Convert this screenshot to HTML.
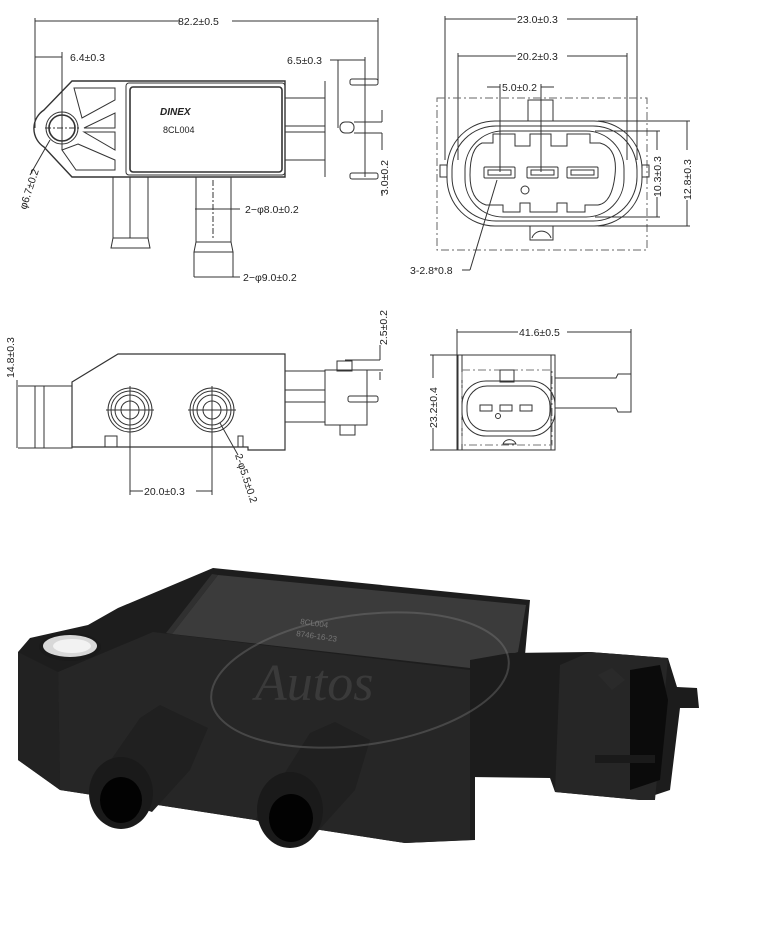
<!DOCTYPE html>
<html><head><meta charset="utf-8"><style>
html,body{margin:0;padding:0;background:#fff;}
svg{display:block;}
text{font-family:"Liberation Sans",sans-serif;font-size:10.5px;fill:#222;}
</style></head><body>
<svg width="772" height="936" viewBox="0 0 772 936" xmlns="http://www.w3.org/2000/svg">
<g stroke="#333" stroke-width="1" fill="none">
<!-- ===== Top-left view ===== -->
<line x1="35" y1="21" x2="180" y2="21"/><line x1="232" y1="21" x2="378" y2="21"/>
<line x1="35" y1="18" x2="35" y2="128"/><line x1="378" y1="18" x2="378" y2="82"/>
<line x1="35" y1="57" x2="62" y2="57"/><line x1="62" y1="52" x2="62" y2="150"/>
<!-- body -->
<path d="M72 81 L285 81 L285 177 L72 177 L44 147 A22 22 0 0 1 44 110 Z" stroke-width="1.4"/>
<rect x="126" y="83" width="159" height="92" rx="3"/>
<rect x="130" y="87" width="152" height="85" rx="3" stroke-width="1.6"/>
<circle cx="62" cy="128" r="16"/><circle cx="62" cy="128" r="13" stroke-width="1.6"/>
<line x1="45" y1="128" x2="80" y2="128" stroke-dasharray="6 2 2 2"/>
<path d="M74 88 L115 88 L115 100 L82 118 Z M84 128 L115 128 L115 113 Z M84 132 L115 132 L115 150 Z M78 144 L115 160 L115 170 L76 170 L62 150 Z"/>
<!-- right connector parts -->
<line x1="285" y1="98" x2="325" y2="98"/><line x1="285" y1="126" x2="325" y2="126"/>
<line x1="285" y1="132" x2="325" y2="132"/><line x1="285" y1="160" x2="325" y2="160"/>
<line x1="325" y1="81" x2="325" y2="177"/><line x1="365" y1="81" x2="365" y2="177"/>
<rect x="340" y="122" width="14" height="11" rx="5"/>
<rect x="350" y="79" width="28" height="6" rx="2"/><rect x="350" y="173" width="28" height="6" rx="2"/>
<line x1="354" y1="122" x2="382" y2="122"/><line x1="354" y1="133" x2="382" y2="133"/>
<line x1="382" y1="110" x2="382" y2="122"/><line x1="382" y1="133" x2="382" y2="150"/><line x1="382" y1="190" x2="382" y2="196"/>
<line x1="330" y1="60" x2="365" y2="60"/><line x1="338" y1="60" x2="338" y2="128"/><line x1="365" y1="57" x2="365" y2="81"/>
<!-- tubes -->
<path d="M113 177 L113 238 L111 248 L150 248 L148 238 L148 177"/><line x1="113" y1="238" x2="148" y2="238"/><line x1="130" y1="177" x2="130" y2="238"/>
<path d="M196 177 L196 242 L194 252 L233 252 L231 242 L231 177"/><line x1="196" y1="242" x2="231" y2="242"/>
<line x1="213" y1="180" x2="213" y2="240" stroke-dasharray="6 2 2 2"/>
<line x1="195" y1="209" x2="240" y2="209"/>
<line x1="194" y1="252" x2="194" y2="277"/><line x1="233" y1="252" x2="233" y2="277"/><line x1="194" y1="277" x2="240" y2="277"/>
<line x1="50" y1="140" x2="30" y2="175"/>
</g>
<text x="178" y="25">82.2±0.5</text>
<text x="70" y="61">6.4±0.3</text>
<text x="287" y="64">6.5±0.3</text>
<text x="163" y="133" style="font-size:9px">8CL004</text>
<text x="160" y="115" style="font-size:10px;font-style:italic;font-weight:bold">DINEX</text>
<text x="245" y="213">2−φ8.0±0.2</text>
<text x="243" y="281">2−φ9.0±0.2</text>
<text transform="translate(388,195) rotate(-90)">3.0±0.2</text>
<text transform="translate(26,210) rotate(-72)">φ6.7±0.2</text>

<!-- ===== Top-right view ===== -->
<g stroke="#333" stroke-width="1" fill="none">
<line x1="445" y1="19" x2="516" y2="19"/><line x1="567" y1="19" x2="637" y2="19"/>
<line x1="445" y1="16" x2="445" y2="160"/><line x1="637" y1="16" x2="637" y2="160"/>
<line x1="458" y1="56" x2="516" y2="56"/><line x1="567" y1="56" x2="627" y2="56"/>
<line x1="458" y1="53" x2="458" y2="160"/><line x1="627" y1="53" x2="627" y2="160"/>
<line x1="487" y1="87" x2="500" y2="87"/><line x1="541" y1="87" x2="554" y2="87"/>
<line x1="500" y1="84" x2="500" y2="172"/><line x1="541" y1="84" x2="541" y2="172"/>
<rect x="437" y="98" width="210" height="152" stroke-dasharray="8 3 2 3" stroke="#666"/>
<rect x="528" y="100" width="25" height="21"/>
<path d="M530 226 L530 240 L553 240 L553 226"/><path d="M532 238 A10 10 0 0 1 551 238"/>
<rect x="447" y="121" width="195" height="105" rx="48"/>
<rect x="452" y="126" width="185" height="95" rx="44"/>
<rect x="465" y="131" width="159" height="86" rx="38"/>
<path d="M482 143 L493 143 L493 134 L515 134 L515 146 L530 146 L530 134 L551 134 L551 146 L567 146 L567 134 L590 134 L590 143 L600 143 Q618 148 615 175 Q612 203 598 205 L585 205 L585 212 L567 212 L567 203 L557 203 L557 212 L530 212 L530 203 L520 203 L520 212 L503 212 L503 205 L486 205 Q470 200 470 175 Q470 148 482 143 Z"/>
<rect x="484" y="167" width="31" height="11" rx="1"/><rect x="488" y="170" width="23" height="5"/>
<rect x="527" y="167" width="31" height="11" rx="1"/><rect x="531" y="170" width="23" height="5"/>
<rect x="567" y="167" width="31" height="11" rx="1"/><rect x="571" y="170" width="23" height="5"/>
<circle cx="525" cy="190" r="4"/>
<rect x="440" y="165" width="7" height="12"/><rect x="642" y="165" width="7" height="12"/>
<line x1="595" y1="131" x2="660" y2="131"/><line x1="595" y1="217" x2="660" y2="217"/>
<line x1="657" y1="131" x2="657" y2="150"/><line x1="657" y1="197" x2="657" y2="217"/>
<line x1="598" y1="121" x2="690" y2="121"/><line x1="598" y1="226" x2="690" y2="226"/>
<line x1="687" y1="121" x2="687" y2="150"/><line x1="687" y1="200" x2="687" y2="226"/>
<line x1="497" y1="180" x2="470" y2="270"/><line x1="462" y1="270" x2="470" y2="270"/>
</g>
<text x="517" y="23">23.0±0.3</text>
<text x="517" y="60">20.2±0.3</text>
<text x="502" y="91">5.0±0.2</text>
<text transform="translate(661,197) rotate(-90)">10.3±0.3</text>
<text transform="translate(691,200) rotate(-90)">12.8±0.3</text>
<text x="410" y="274">3-2.8*0.8</text>

<!-- ===== Bottom-left view ===== -->
<g stroke="#333" stroke-width="1" fill="none">
<path d="M72 382 L118 354 L285 354 L285 450 L248 450 L248 447 L72 447 Z" stroke-width="1.2"/>
<rect x="35" y="386" width="37" height="62"/><line x1="44" y1="386" x2="44" y2="448"/>
<rect x="105" y="436" width="12" height="11"/><rect x="238" y="436" width="5" height="11"/>
<circle cx="130" cy="410" r="22"/><circle cx="130" cy="410" r="19"/><circle cx="130" cy="410" r="15"/><circle cx="130" cy="410" r="9"/>
<circle cx="212" cy="410" r="22"/><circle cx="212" cy="410" r="19"/><circle cx="212" cy="410" r="15"/><circle cx="212" cy="410" r="9"/>
<line x1="106" y1="410" x2="154" y2="410"/><line x1="130" y1="386" x2="130" y2="495"/>
<line x1="188" y1="410" x2="236" y2="410"/><line x1="212" y1="386" x2="212" y2="495"/>
<line x1="130" y1="491" x2="143" y2="491"/><line x1="196" y1="491" x2="212" y2="491"/>
<line x1="220" y1="423" x2="238" y2="455"/>
<path d="M285 371 L325 371 L325 390 L285 390 M285 402 L325 402 L325 422 L285 422"/>
<rect x="325" y="370" width="42" height="55"/>
<rect x="337" y="361" width="15" height="10"/><rect x="340" y="425" width="15" height="10"/>
<rect x="348" y="396" width="30" height="6" rx="2"/>
<line x1="18" y1="386" x2="35" y2="386"/><line x1="18" y1="448" x2="35" y2="448"/>
<line x1="17" y1="380" x2="17" y2="448"/>
<line x1="345" y1="360" x2="380" y2="360"/><line x1="367" y1="370" x2="383" y2="370"/>
<line x1="380" y1="345" x2="380" y2="360"/><line x1="380" y1="372" x2="380" y2="380"/>
</g>
<text x="144" y="495">20.0±0.3</text>
<text transform="translate(14,378) rotate(-90)">14.8±0.3</text>
<text transform="translate(387,345) rotate(-90)">2.5±0.2</text>
<text transform="translate(235,455) rotate(72)">2-φ5.5±0.2</text>

<!-- ===== Bottom-right view ===== -->
<g stroke="#333" stroke-width="1" fill="none">
<line x1="457" y1="332" x2="518" y2="332"/><line x1="567" y1="332" x2="631" y2="332"/>
<line x1="457" y1="329" x2="457" y2="450"/><line x1="631" y1="329" x2="631" y2="410"/>
<path d="M458 355 L555 355 L555 450 L458 450 Z"/><line x1="462" y1="355" x2="462" y2="450"/><line x1="551" y1="355" x2="551" y2="450"/>
<rect x="462" y="370" width="90" height="75" stroke-dasharray="8 3 2 3" stroke="#777"/>
<rect x="500" y="370" width="14" height="12"/>
<rect x="462" y="381" width="93" height="55" rx="24"/>
<rect x="467" y="386" width="83" height="45" rx="20"/>
<rect x="480" y="405" width="12" height="6"/><rect x="500" y="405" width="12" height="6"/><rect x="520" y="405" width="12" height="6"/>
<circle cx="498" cy="416" r="2.5"/>
<path d="M503 444 A7 7 0 0 1 516 444 Z"/>
<path d="M555 378 L616 378 L618 374 L631 374 L631 412 L618 412 L616 408 L555 408"/>
<line x1="433" y1="355" x2="433" y2="378"/><line x1="433" y1="428" x2="433" y2="450"/>
<line x1="430" y1="355" x2="458" y2="355"/><line x1="430" y1="450" x2="458" y2="450"/>
</g>
<text x="519" y="336">41.6±0.5</text>
<text transform="translate(437,428) rotate(-90)">23.2±0.4</text>

<!-- ===== Photo ===== -->
<g stroke="none">
<!-- main body -->
<polygon fill="#1d1d1d" points="18,652 30,638 88,625 118,608 213,568 530,600 525,655 475,670 475,840 405,843 60,790 18,760"/>
<!-- front face -->
<polygon fill="#262626" points="58,672 153,632 470,670 470,840 405,843 60,790"/>
<polygon fill="#222" points="18,652 58,672 60,790 18,760"/>
<!-- top plate -->
<polygon fill="#3b3b3b" points="218,575 526,605 518,652 470,668 172,634"/>
<polygon fill="#303030" points="172,634 218,575 212,574 166,633"/>
<!-- hole -->
<ellipse cx="70" cy="647" rx="31" ry="14" fill="#1a1a1a"/>
<ellipse cx="70" cy="646" rx="27" ry="11" fill="#d8d8d8"/>
<ellipse cx="72" cy="646" rx="19" ry="7" fill="#f2f2f2"/>
<!-- connector -->
<polygon fill="#1c1c1c" points="470,660 510,653 590,652 668,658 677,687 697,688 699,708 680,708 670,790 640,800 555,792 550,778 470,777"/>
<polygon fill="#262626" points="560,665 590,652 668,658 655,800 640,800 555,792"/>
<polygon fill="#0b0b0b" points="630,670 660,665 668,700 660,780 630,790"/>
<polygon fill="#2a2a2a" points="598,675 612,668 625,680 612,690"/>
<rect x="595" y="755" width="60" height="8" fill="#1a1a1a"/>
<!-- tubes -->
<polygon fill="#202020" points="90,790 140,718 160,705 208,728 190,770 152,812"/>
<ellipse cx="121" cy="793" rx="32" ry="36" fill="#1a1a1a"/>
<ellipse cx="121" cy="800" rx="21" ry="23" fill="#020202"/>
<polygon fill="#202020" points="255,820 310,733 335,722 370,740 355,790 310,840"/>
<ellipse cx="290" cy="810" rx="33" ry="38" fill="#1a1a1a"/>
<ellipse cx="291" cy="818" rx="22" ry="24" fill="#020202"/>
</g>
<!-- watermark -->
<ellipse cx="360" cy="680" rx="150" ry="65" fill="none" stroke="#888" stroke-opacity="0.35" stroke-width="2" transform="rotate(-8 360 680)"/>
<text x="255" y="700" style="font-size:52px;font-style:italic;fill:#555;fill-opacity:0.45;font-family:'Liberation Serif',serif">Autos</text>
<text x="300" y="624" transform="rotate(8 300 624)" style="font-size:8px;fill:#777">8CL004</text>
<text x="296" y="636" transform="rotate(8 296 636)" style="font-size:8px;fill:#777">8746-16-23</text>
</svg>
</body></html>
